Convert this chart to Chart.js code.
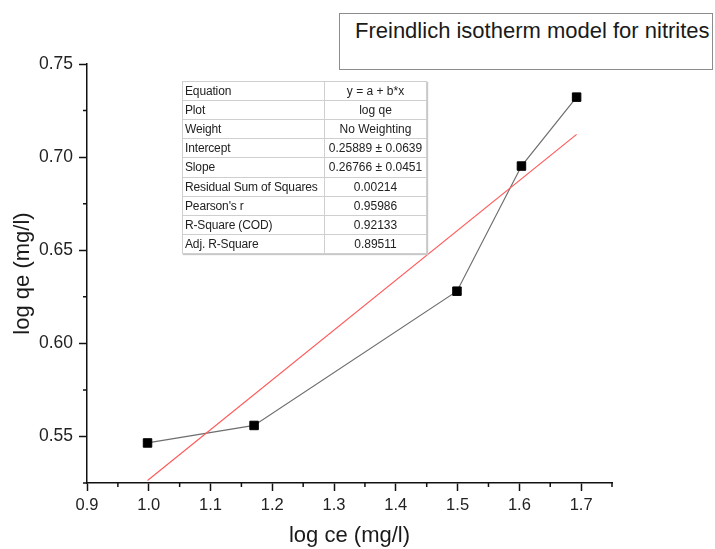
<!DOCTYPE html>
<html>
<head>
<meta charset="utf-8">
<script src="https://cdn.jsdelivr.net/npm/chart.js@4"></script>
<style>
  body { margin: 0; background: #fff; }
  #wrap { position: relative; width: 715px; height: 549px; overflow: hidden; }
  #title-box {
    position: absolute; left: 339px; top: 13px; width: 374px; height: 57px;
    border: 1.5px solid #8c8c8c; background: #fff;
    font-family: "Liberation Sans", Arial, sans-serif; font-size: 22px; color: #1a1a1a;
    padding: 4px 0 0 15px; box-sizing: border-box; white-space: nowrap;
  }
  #fit-table {
    position: absolute; left: 182px; top: 81px; width: 245px; height: 173px;
    border-collapse: collapse; background: #fff; table-layout: fixed;
    border: 1px solid #9a9a9a; box-shadow: 1px 1px 1px #c8c8c8;
    font-family: "Liberation Sans", Arial, sans-serif; font-size: 12px; color: #222;
  }
  #fit-table td {
    border: 1px solid #cfcfcf; padding: 0 2px; height: 18px; line-height: 18px;
    white-space: nowrap; overflow: hidden;
  }
  #fit-table td:first-child { width: 137px; letter-spacing: -0.15px; }
  #fit-table td:last-child { text-align: center; }
</style>
</head>
<body>
<div id="wrap">
  <canvas id="chart" width="715" height="549"></canvas>
  <table id="fit-table"></table>
  <div id="title-box">Freindlich isotherm model for nitrites</div>
</div>
<script>
// measured points
let logCe = [0.998, 1.1705, 1.499, 1.6034, 1.6927];
let logQe = [0.5465, 0.5559, 0.628, 0.6952, 0.7322];

// linear fit line, end points
let fitX = [0.998, 1.6927];
let fitY = [0.5263, 0.7122];

let xMajor = [0.9, 1.0, 1.1, 1.2, 1.3, 1.4, 1.5, 1.6, 1.7];
let xMinor = [0.95, 1.05, 1.15, 1.25, 1.35, 1.45, 1.55, 1.65, 1.75];
let yMajor = [0.55, 0.60, 0.65, 0.70, 0.75];
let yMinor = [0.525, 0.575, 0.625, 0.675, 0.725];

let statNames = ["Equation", "Plot", "Weight", "Intercept", "Slope",
    "Residual Sum of Squares", "Pearson's r", "R-Square (COD)", "Adj. R-Square"];
let statValues = ["y = a + b*x", "log qe", "No Weighting", "0.25889 \u00b1 0.0639",
    "0.26766 \u00b1 0.0451", "0.00214", "0.95986", "0.92133", "0.89511"];

let table = document.getElementById("fit-table");
statNames.forEach((name, i) => {
    let row = table.insertRow();
    row.insertCell().textContent = name;
    row.insertCell().textContent = statValues[i];
});

const FONT = "'Liberation Sans', Arial, sans-serif";

// Origin style short minor ticks
const minorTicks = {
    id: "minorTicks",
    afterDraw(chart) {
        let ctx = chart.ctx;
        let x = chart.scales.x, y = chart.scales.y;
        ctx.save();
        ctx.strokeStyle = "#111";
        ctx.lineWidth = 1.5;
        ctx.beginPath();
        xMinor.forEach(v => {
            let px = x.getPixelForValue(v);
            ctx.moveTo(px, x.top);
            ctx.lineTo(px, x.top + 4);
        });
        yMinor.forEach(v => {
            let py = y.getPixelForValue(v);
            ctx.moveTo(y.right, py);
            ctx.lineTo(y.right - 4, py);
        });
        ctx.stroke();
        ctx.restore();
    }
};

new Chart(document.getElementById("chart"), {
    type: "scatter",
    data: {
        datasets: [{
            data: fitX.map((v, i) => ({ x: v, y: fitY[i] })),
            showLine: true,
            borderColor: "#ff5a5a",
            borderWidth: 1.2,
            pointRadius: 0
        }, {
            data: logCe.map((v, i) => ({ x: v, y: logQe[i] })),
            showLine: true,
            borderColor: "#6e6e6e",
            borderWidth: 1.2,
            pointStyle: "rect",
            pointRadius: 6,
            pointBackgroundColor: "#000",
            pointBorderColor: "#000",
            pointBorderWidth: 1
        }]
    },
    options: {
        responsive: false,
        animation: false,
        layout: { padding: { left: 0, top: 64, right: 103, bottom: 0 } },
        plugins: { legend: { display: false }, tooltip: { enabled: false } },
        scales: {
            x: {
                type: "linear",
                min: 0.9,
                max: 1.75,
                afterBuildTicks: s => { s.ticks = xMajor.map(v => ({ value: v })); },
                afterFit: s => { s.height = 66; },
                border: { color: "#111", width: 1.5 },
                grid: { drawOnChartArea: false, tickLength: 8, tickColor: "#111", tickWidth: 1.5 },
                ticks: {
                    autoSkip: false, maxRotation: 0, padding: 5,
                    color: "#222", font: { family: FONT, size: 16.5 },
                    callback: v => v.toFixed(1)
                },
                title: {
                    display: true, text: "log ce (mg/l)", color: "#1a1a1a",
                    font: { family: FONT, size: 22 }, padding: { top: 0, bottom: 0 }
                }
            },
            y: {
                type: "linear",
                min: 0.525,
                max: 0.75,
                afterBuildTicks: s => { s.ticks = yMajor.map(v => ({ value: v })); },
                afterFit: s => { s.width = 87; },
                border: { color: "#111", width: 1.5 },
                grid: { drawOnChartArea: false, tickLength: 8, tickColor: "#111", tickWidth: 1.5 },
                ticks: {
                    autoSkip: false, padding: 6,
                    color: "#222", font: { family: FONT, size: 17.5 },
                    callback: v => v.toFixed(2)
                },
                title: {
                    display: true, text: "log qe (mg/l)", color: "#1a1a1a",
                    font: { family: FONT, size: 22 }, padding: { top: 10, bottom: 0 }
                }
            }
        }
    },
    plugins: [minorTicks]
});
</script>
</body>
</html>
